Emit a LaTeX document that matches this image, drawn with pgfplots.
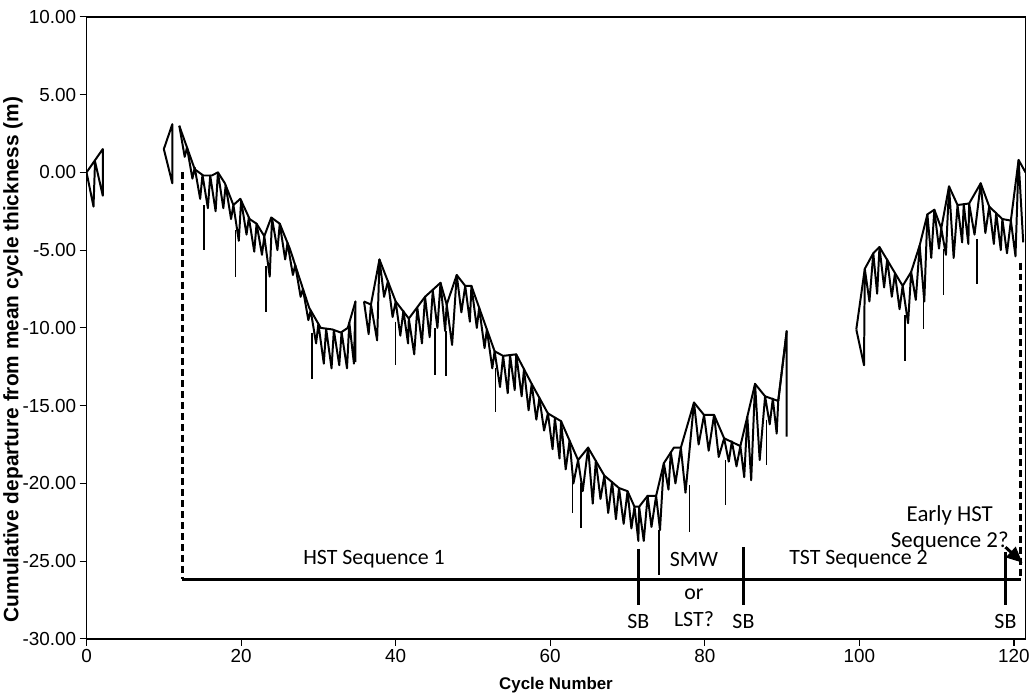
\documentclass[border=0pt]{standalone}
\usepackage{fontspec}
\setmainfont{Liberation Sans}
\newfontfamily\calib{Carlito}
\usepackage{pgfplots}
\pgfplotsset{compat=1.18}
\usetikzlibrary{arrows.meta}

\begin{document}
\begin{tikzpicture}
\begin{axis}[
  scale only axis, width=945pt, height=626pt,
  xmin=0, xmax=121.5, ymin=-30, ymax=10,
  xtick={0,20,...,120}, ytick={-30,-25,...,10},
  tick align=outside, tick pos=left,
  major tick length=7pt,
  every tick/.style={black, line width=1.2pt},
  axis line style={line width=1.5pt},
  ticklabel style={font=\fontsize{19}{22}\selectfont},
  yticklabel style={/pgf/number format/.cd, fixed, fixed zerofill, precision=2, assume math mode=true},
  xticklabel style={/pgf/number format/assume math mode=true},
  xlabel={Cycle Number},
  ylabel={Cumulative departure from mean cycle thickness (m)},
  xlabel style={font=\bfseries\fontsize{17}{20}\selectfont, at={(axis description cs:0.5,-0.075)}, anchor=center},
  ylabel style={font=\bfseries\fontsize{21}{24}\selectfont, at={(axis description cs:-0.0783,0.449)}, anchor=center},
  unbounded coords=jump,
  zz/.style={black, line width=2pt, line join=round, mark=none},
  vl/.style={black, line width=1.5pt, mark=none},
  dsh/.style={black, line width=3pt, dash pattern=on 7pt off 4pt, mark=none},
]
% cycles 0-2
\addplot[zz] coordinates {(0,0) (0.9,-2.2) (1.1,0.7) (2.1,-1.5) (2.1,1.5) (0,0)};
% cycles 10-11
\addplot[zz] coordinates {(10,1.5) (11.1,3.1) (11.1,-0.7) (10,1.5)};

% cycles 12-35: sawtooth and upper envelope
\addplot[zz] coordinates {(12,3.0) (12.7,1.0) (13,1.6) (13.7,-0.4) (14,0.3) (14.7,-1.7) (15,-0.16) (15.7,-2.3) (16,-0.2) (16.7,-2.5) (17,0.0) (17.7,-2.3) (18,-0.83) (18.7,-3.0) (19,-2.1) (19.7,-4.4) (20,-1.8) (20.7,-4.0) (21,-2.9) (21.7,-5.1) (22,-3.3) (22.7,-5.3) (23,-4.1) (23.7,-6.7) (24,-2.94) (24.7,-5.0) (25,-3.3) (25.7,-5.6) (26,-4.53) (26.7,-6.6) (27,-5.96) (27.7,-8.0) (28,-7.5) (28.7,-9.5) (29,-8.87) (29.7,-11.0) (30,-9.74) (30.7,-12.3) (31,-10.05) (31.7,-12.6) (32,-10.15) (32.7,-12.4) (33,-10.27) (33.7,-12.6) (34,-9.66) (34.6,-12.3) (34.8,-8.3) (34.8,-12.2)};
\addplot[zz] coordinates {(12,3.0) (14,0.2) (15.1,-0.2) (16.2,-0.2) (17,0.0) (17.9,-0.7) (19,-2.1) (19.9,-1.7) (21.1,-3.0) (22,-3.3) (23,-4.1) (23.9,-2.9) (25,-3.3) (26.3,-4.9) (28.8,-8.7) (30.3,-10.0) (31.8,-10.1) (32.9,-10.3) (33.8,-10.0) (34.8,-8.3)};

% cycles 36-91
\addplot[zz] coordinates {(35.9,-8.3) (36.5,-10.4) (36.8,-8.5) (37.6,-10.8) (37.9,-5.6) (38.5,-8.0) (39,-7.0) (39.6,-9.3) (40,-8.3) (40.6,-10.5) (41,-8.9) (41.6,-11.0) (41.7,-9.4) (42.4,-11.7) (42.8,-8.7) (43.4,-11.0) (43.8,-8.0) (44.4,-10.6) (44.8,-7.6) (45.4,-10.0) (45.8,-7.1) (46.4,-10.2) (46.6,-8.5) (47.3,-11.1) (47.9,-6.6) (48.5,-9.0) (49,-7.3) (49.6,-9.6) (49.8,-7.3) (50.5,-10.0) (50.8,-8.7) (51.5,-11.3) (51.8,-10.1) (52.5,-12.6) (52.8,-11.5) (53.5,-13.8) (53.9,-11.8) (54.5,-14.2) (54.8,-11.75) (55.4,-14.0) (55.6,-11.7) (56.3,-14.4) (56.6,-12.65) (57.2,-15.3) (57.6,-13.6) (58.2,-15.9) (58.6,-14.5) (59.2,-16.6) (59.7,-15.5) (60.3,-17.8) (60.6,-15.8) (61.2,-18.4) (61.4,-16.0) (62,-19.1) (62.5,-17.25) (63,-20.0) (63.6,-18.5) (64.2,-20.5) (64.9,-17.7) (65.5,-21.3) (65.9,-18.55) (66.5,-21.0) (67,-19.5) (67.5,-21.9) (68,-19.9) (68.5,-22.3) (68.9,-20.3) (69.5,-22.6) (70,-20.5) (70.5,-22.9) (70.9,-21.5) (71.4,-23.7) (71.5,-21.5) (72.1,-23.7) (72.6,-20.8) (73.1,-22.8) (73.7,-20.8) (74.2,-23.0) (74.7,-18.7) (75.3,-20.4) (75.6,-18.0) (76.2,-20.0) (76.9,-17.7) (77.5,-20.6) (78.6,-14.8) (79.2,-17.5) (79.9,-15.6) (80.5,-17.9) (81.2,-15.6) (81.8,-18.3) (82.5,-17.1) (83.1,-18.6) (83.5,-17.3) (84.1,-18.9) (84.6,-17.6) (85.1,-19.6) (85.5,-15.7) (86,-19.8) (86.5,-13.6) (87.1,-18.5) (87.8,-14.4) (88.4,-16.2) (88.8,-14.55) (89.3,-16.8) (89.5,-14.7) (90.6,-10.2) (90.6,-17.0)};
\addplot[zz] coordinates {(35.9,-8.3) (36.8,-8.5) (37.9,-5.6) (40,-8.3) (41.7,-9.4) (43.8,-8.0) (45.8,-7.1) (46.6,-8.5) (47.9,-6.6) (49,-7.3) (49.8,-7.3) (52.8,-11.5) (53.9,-11.8) (55.6,-11.7) (57.6,-13.6) (59.7,-15.5) (61.4,-16.0) (63.6,-18.5) (64.9,-17.7) (67,-19.5) (68.9,-20.3) (70,-20.5) (70.9,-21.5) (71.5,-21.5) (72.6,-20.8) (73.7,-20.8) (74.7,-18.7) (76,-17.7) (76.9,-17.7) (78.6,-14.8) (79.9,-15.6) (81.2,-15.6) (82.5,-17.1) (84.6,-17.6) (86.5,-13.6) (87.8,-14.4) (89.5,-14.7) (90.6,-10.2)};

% cycles 100-121
\addplot[zz] coordinates {(99.6,-10.1) (100.6,-12.4) (100.7,-6.2) (101.3,-8.3) (101.8,-5.2) (102.3,-7.8) (102.6,-4.8) (103.2,-7.4) (103.6,-5.6) (104.2,-8.0) (104.6,-6.5) (105.2,-8.8) (105.6,-7.3) (106.3,-9.7) (106.7,-6.4) (107.3,-8.2) (107.8,-4.7) (108.4,-8.3) (108.8,-2.7) (109.3,-5.5) (109.7,-2.4) (110.3,-4.9) (110.6,-3.6) (111.2,-5.3) (111.6,-0.9) (112.2,-5.5) (112.7,-2.1) (113.3,-4.5) (113.5,-2.05) (114.1,-4.6) (114.2,-2.0) (114.9,-4.0) (115.7,-0.7) (116.3,-3.9) (116.8,-2.2) (117.4,-4.6) (117.7,-2.6) (118.3,-5.0) (118.5,-3.0) (119.1,-5.2) (119.6,-3.1) (120.2,-5.4) (120.6,0.8) (121.2,-4.5)};
\addplot[zz] coordinates {(99.6,-10.1) (100.7,-6.2) (101.8,-5.2) (102.6,-4.8) (105.6,-7.3) (106.7,-6.4) (107.8,-4.7) (108.8,-2.7) (109.7,-2.4) (110.6,-3.6) (111.6,-0.9) (112.7,-2.1) (114.2,-2.0) (115.7,-0.7) (116.8,-2.2) (118.5,-3.0) (119.6,-3.1) (120.6,0.8) (121.5,0.0)};

% single thin cycles
\addplot[vl] coordinates {(15.2,-2.1) (15.2,-5.0) (15.2,nan) (19.3,-3.7) (19.3,-6.7) (19.3,nan) (23.2,-6.0) (23.2,-9.0) (23.2,nan) (29.2,-10.3) (29.2,-13.3) (29.2,nan) (40.0,-9.6) (40.0,-12.4) (40.0,nan) (45.1,-10.0) (45.1,-13.0) (45.1,nan) (46.5,-10.2) (46.5,-13.1) (46.5,nan) (52.9,-12.6) (52.9,-15.4) (52.9,nan) (62.9,-19.0) (62.9,-21.9) (62.9,nan) (64.0,-20.0) (64.0,-22.9) (64.0,nan) (74.1,-23.0) (74.1,-25.9) (74.1,nan) (78.0,-20.1) (78.0,-23.1) (78.0,nan) (82.7,-18.5) (82.7,-21.4) (82.7,nan) (88.0,-15.9) (88.0,-18.8) (88.0,nan) (105.9,-9.2) (105.9,-12.1) (105.9,nan) (108.3,-7.1) (108.3,-10.1) (108.3,nan) (110.9,-4.9) (110.9,-7.9) (110.9,nan) (115.2,-4.3) (115.2,-7.2)};

% sequence bracket and boundaries
\addplot[dsh] coordinates {(12.4,0) (12.4,-26.15)};
\addplot[dsh] coordinates {(120.9,-5.8) (120.9,-26.15)};
\addplot[black, line width=3pt, mark=none] coordinates {(12.4,-26.15) (120.9,-26.15)};
\addplot[black, line width=3pt, mark=none] coordinates {(71.4,-24.2) (71.4,-27.8)};
\addplot[black, line width=3pt, mark=none] coordinates {(85.0,-24.1) (85.0,-27.8)};
\addplot[black, line width=3pt, mark=none] coordinates {(118.9,-24.4) (118.9,-27.8)};

\begin{scope}[every node/.style={font=\calib\fontsize{22}{24}\selectfont, inner sep=0pt}]
\node at (axis cs:37.2,-24.9) {HST Sequence 1};
\node at (axis cs:99.9,-24.9) {TST Sequence 2};
\node at (axis cs:78.6,-24.9) {SMW};
\node at (axis cs:78.6,-27.1) {or};
\node at (axis cs:78.6,-28.7) {LST?};
\node at (axis cs:71.4,-28.85) {SB};
\node at (axis cs:85.0,-28.85) {SB};
\node at (axis cs:118.9,-28.85) {SB};
\node[align=center, font=\calib\fontsize{23}{27}\selectfont] at (axis cs:111.7,-22.9) {Early HST\\Sequence 2?};
\end{scope}
\draw[black, line width=3pt, -{Triangle[length=16pt,width=14pt]}] (axis cs:118.9,-24.1) -- (axis cs:121.1,-25.1);
\end{axis}
\useasboundingbox ([shift={(-86pt,-58pt)}]current axis.south west) rectangle ([shift={(2pt,17pt)}]current axis.north east);
\end{tikzpicture}
\end{document}
